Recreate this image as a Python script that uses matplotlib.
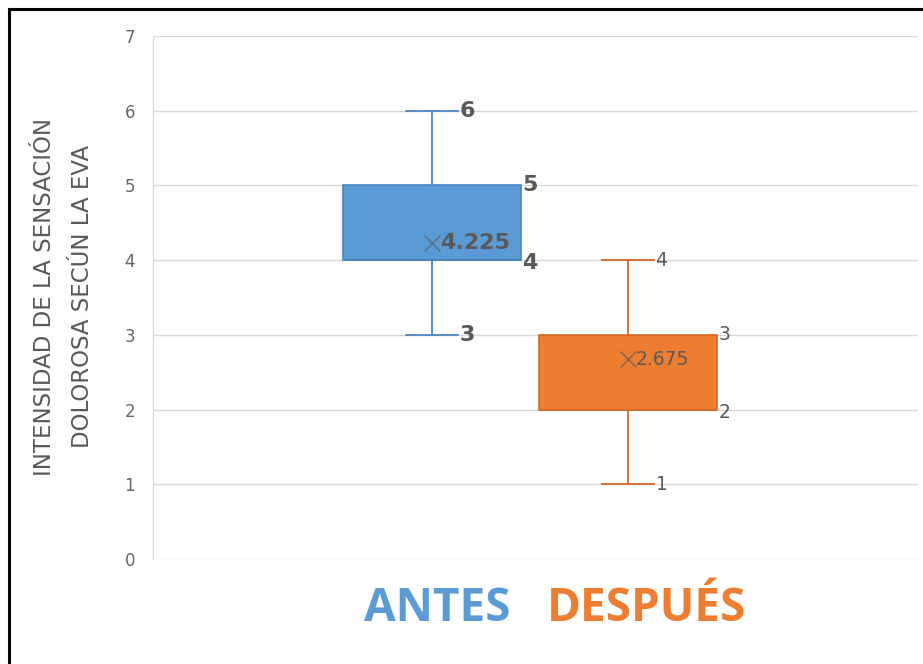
import matplotlib.pyplot as plt
from matplotlib.lines import Line2D

GROUPS = ['ANTES', 'DESPUÉS']
MINS = [3, 1]
Q1S = [4, 2]
MEDIANS = [4, 2]
Q3S = [5, 3]
MAXS = [6, 4]
MEANS = [4.225, 2.675]
MEAN_LABELS = ['4.225', '2.675']

FILLS = ['#5B9BD5', '#ED7D31']
EDGES = ['#4A86C0', '#D4692A']
GREY = '#595959'

POSITIONS = [0.3647, 0.6209]
BOX_W = 0.2327
CAP_HALF = 0.034

fig = plt.figure(figsize=(9.23, 6.64), dpi=100)
ax = fig.add_axes([0.1658, 0.1581, 0.8288, 0.7877])

stats = []
for i, g in enumerate(GROUPS):
    stats.append({'label': g, 'whislo': MINS[i], 'q1': Q1S[i], 'med': MEDIANS[i],
                  'q3': Q3S[i], 'whishi': MAXS[i], 'mean': MEANS[i], 'fliers': []})

for i, st in enumerate(stats):
    ax.bxp([st], positions=[POSITIONS[i]], widths=BOX_W, patch_artist=True,
           showmeans=False, showcaps=True, manage_ticks=False,
           boxprops=dict(facecolor=FILLS[i], edgecolor=EDGES[i], linewidth=1.2),
           whiskerprops=dict(color=EDGES[i], linewidth=1.3),
           capprops=dict(color=EDGES[i], linewidth=1.3),
           medianprops=dict(color=EDGES[i], linewidth=1.2),
           capwidths=CAP_HALF * 2, zorder=3)
    ax.plot(POSITIONS[i], MEANS[i], marker='x', color=GREY, markersize=11,
            markeredgewidth=1.0, alpha=0.7, zorder=4)

# data labels: bold for ANTES, regular for DESPUÉS
label_kw = [dict(fontsize=16, fontweight='bold'), dict(fontsize=13.5)]
for i in range(2):
    x = POSITIONS[i]
    kw = dict(va='center', ha='left', color=GREY, family='DejaVu Sans', zorder=5,
              **label_kw[i])
    ax.text(x + CAP_HALF + 0.002, MAXS[i], str(MAXS[i]), **kw)
    ax.text(x + CAP_HALF + 0.002, MINS[i], str(MINS[i]), **kw)
    ax.text(x + BOX_W / 2 + 0.002, Q3S[i], str(Q3S[i]), **kw)
    ax.text(x + BOX_W / 2 + 0.002, Q1S[i] - 0.04, str(Q1S[i]), **kw)
    ax.text(x + 0.0105, MEANS[i], MEAN_LABELS[i], **kw)

ax.set_xlim(0, 1)
ax.set_ylim(0, 7)
ax.set_yticks(range(0, 8))
ax.set_xticks([])
ax.grid(axis='y', color='#d9d9d9', linewidth=1)
ax.set_axisbelow(True)
for side in ['top', 'right', 'bottom']:
    ax.spines[side].set_visible(False)
ax.spines['left'].set_color('#d9d9d9')
ax.tick_params(axis='y', length=0, pad=13, labelsize=12, labelcolor='#666666')

fig.text(0.069, 0.553, 'INTENSIDAD DE LA SENSACIÓN\nDOLOROSA SECÚN LA EVA',
         rotation=90, ha='center', va='center', fontsize=16.5, color=GREY,
         family='DejaVu Sans', linespacing=1.8)

# category captions
fig.text(0.4735, 0.083, GROUPS[0], ha='center', va='center', fontsize=33,
         fontweight='bold', color=FILLS[0], family='Open Sans')
fig.text(0.701, 0.083, GROUPS[1], ha='center', va='center', fontsize=33,
         fontweight='bold', color=FILLS[1], family='Open Sans')

# frame lines of the original screenshot
fig.add_artist(Line2D([0.0098, 0.0098], [0, 0.987], color='black', linewidth=2.2,
                      transform=fig.transFigure))
fig.add_artist(Line2D([0.0098, 1], [0.987, 0.987], color='black', linewidth=2.2,
                      transform=fig.transFigure))

fig.savefig('out.png', dpi=100)
